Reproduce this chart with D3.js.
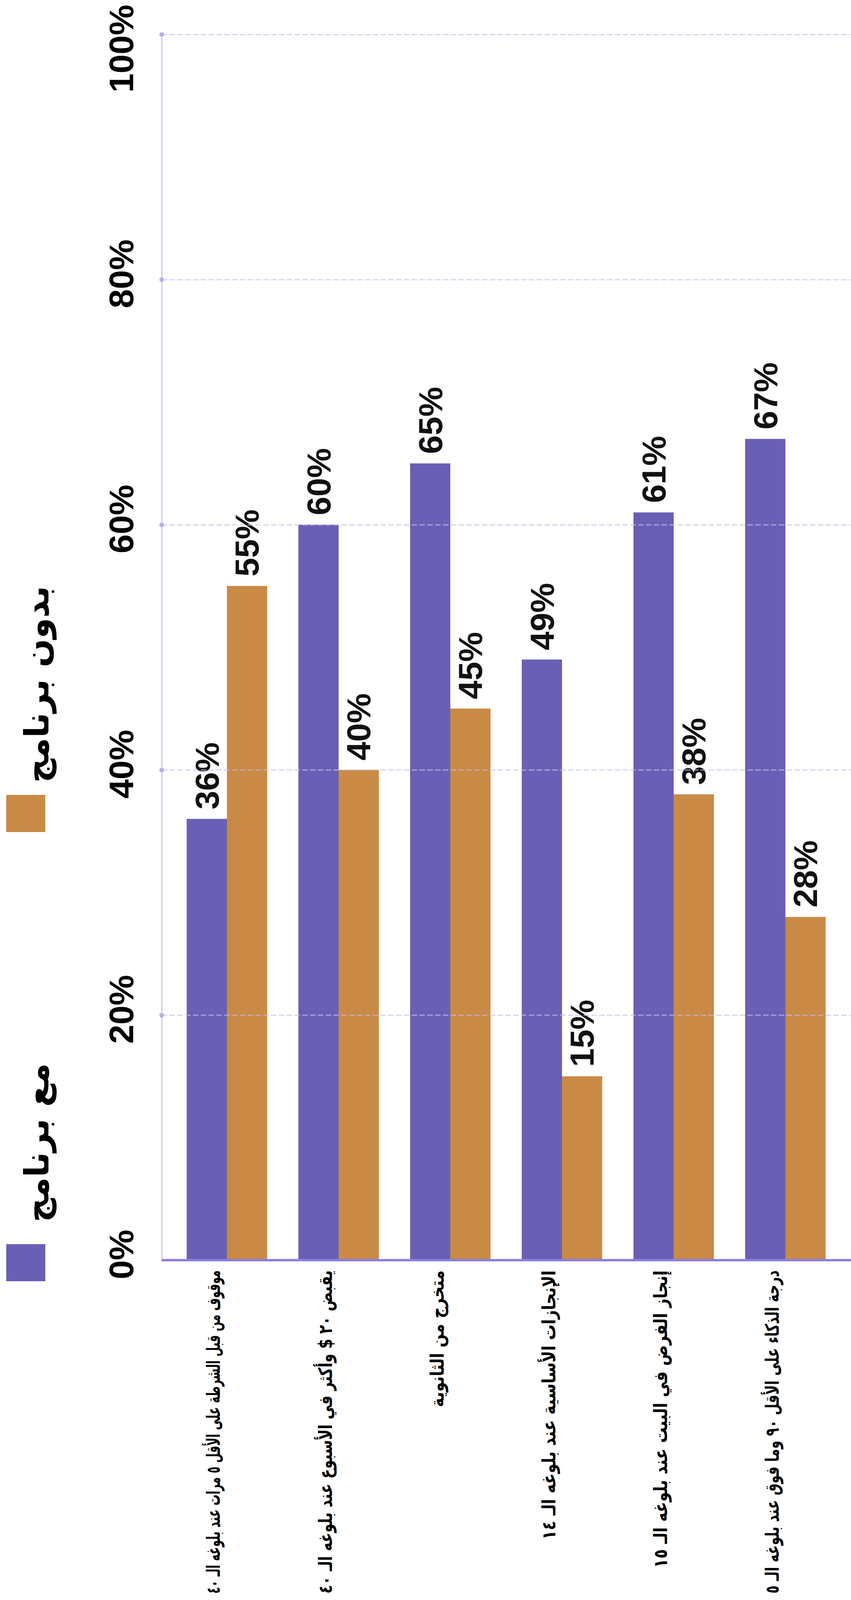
<!DOCTYPE html>
<html lang="ar">
    <head>
        <meta charset="utf-8">
        <title>مع برنامج / بدون برنامج</title>
        <script src="https://cdn.jsdelivr.net/npm/d3@7/dist/d3.min.js" charset="utf-8"></script>
        <style>
            body { margin: 0; background: #fff; }
        </style>
    </head>
    <body>
        <div id="chart"></div>
        <script>
            // categories (left to right in the picture)
            var categories = [
                "موقوف من قبل الشرطة على الأقل ٥ مرات عند بلوغه الـ ٤٠",
                "يقبض ٢٠ $ وأكثر في الأسبوع عند بلوغه الـ ٤٠",
                "متخرج من الثانوية",
                "الإنجازات الأساسية عند بلوغه الـ ١٤",
                "إنجاز الفرض في البيت عند بلوغه الـ ١٥",
                "درجة الذكاء على الأقل ٩٠ وما فوق عند بلوغه الـ ٥"
            ];
            var seriesNames = ["مع برنامج", "بدون برنامج"];
            var withProgram = [36, 60, 65, 49, 61, 67];
            var withoutProgram = [55, 40, 45, 15, 38, 28];
            var tickValues = [0, 20, 40, 60, 80, 100];

            var W = 2179, H = 4473;
            var plotLeft = 414, plotRight = 2179;
            var colors = ["#6960b5", "#c98a45"];
            var numFont = "'Liberation Sans', Arial, sans-serif";
            var arFont = "'DejaVu Sans', sans-serif";

            var svg = d3.select("#chart").append("svg")
                .attr("width", W)
                .attr("height", H)
                .style("display", "block");

            var y = d3.scaleLinear()
                .domain([0, 100])
                .range([3226, 88]);

            var x0 = d3.scaleBand()
                .domain(categories)
                .range([438, 2154])
                .paddingInner(0.28)
                .paddingOuter(0.14);

            var x1 = d3.scaleBand()
                .domain([0, 1])
                .range([0, x0.bandwidth()]);

            var color = d3.scaleOrdinal().domain([0, 1]).range(colors);

            var rows = categories.map(function(c, i) {
                return { cat: c, vals: [withProgram[i], withoutProgram[i]] };
            });

            // bars
            var groups = svg.selectAll(".grp")
                .data(rows)
                .enter()
                .append("g")
                .attr("class", "grp")
                .attr("transform", function(d) { return "translate(" + x0(d.cat) + ",0)"; });

            groups.selectAll("rect")
                .data(function(d) { return d.vals.map(function(v, k) { return { k: k, v: v }; }); })
                .enter()
                .append("rect")
                .attr("x", function(d) { return x1(d.k); })
                .attr("width", x1.bandwidth())
                .attr("y", function(d) { return y(d.v); })
                .attr("height", function(d) { return y(0) - y(d.v); })
                .style("fill", function(d) { return color(d.k); });

            // grid + vertical axis line
            var grid = svg.append("g")
                .attr("transform", "translate(" + plotLeft + ",0)")
                .call(d3.axisLeft(y)
                    .tickValues(tickValues.slice(1))
                    .tickSize(-(plotRight - plotLeft))
                    .tickSizeOuter(0)
                    .tickFormat(""));
            grid.select(".domain")
                .attr("stroke", "#cfc8ee")
                .attr("stroke-width", 3);
            grid.selectAll(".tick line")
                .attr("stroke", "#c6bfea")
                .attr("stroke-width", 3)
                .attr("stroke-dasharray", "14,6")
                .attr("opacity", 0.7);
            grid.selectAll(".tick")
                .append("circle")
                .attr("r", 6)
                .attr("fill", "#b9b0e6");

            // baseline
            svg.append("line")
                .attr("x1", plotLeft)
                .attr("x2", plotRight)
                .attr("y1", y(0))
                .attr("y2", y(0))
                .attr("stroke", "#8a7fe0")
                .attr("stroke-width", 6);

            // value labels
            groups.selectAll(".val")
                .data(function(d) { return d.vals.map(function(v, k) { return { k: k, v: v }; }); })
                .enter()
                .append("text")
                .attr("class", "val")
                .attr("transform", function(d) {
                    return "translate(" + (x1(d.k) + x1.bandwidth() / 2) + "," + (y(d.v) - 24) + ") rotate(-90)";
                })
                .attr("text-anchor", "start")
                .attr("dominant-baseline", "central")
                .style("font-family", numFont)
                .style("font-weight", "bold")
                .style("font-size", "86px")
                .style("fill", "#111")
                .text(function(d) { return d.v + "%"; });

            // value axis labels
            var yAxis = svg.append("g")
                .attr("transform", "translate(310,0)")
                .call(d3.axisLeft(y)
                    .tickValues(tickValues)
                    .tickSize(0)
                    .tickFormat(function(d) { return d + "%"; }));
            yAxis.select(".domain").remove();
            yAxis.selectAll(".tick text")
                .attr("x", 0)
                .attr("dy", null)
                .attr("text-anchor", "middle")
                .attr("dominant-baseline", "central")
                .attr("transform", function(d) {
                    var off = Math.max(y(d) - 15, 124) - y(d);
                    return "translate(0," + off + ") rotate(-90)";
                })
                .style("font-family", numFont)
                .style("font-weight", "bold")
                .style("font-size", "88px")
                .style("fill", "#000");

            // category labels, squeezed along the reading direction so they stay on the page
            var catTop = y(0) + 26;
            var catMax = 4080 - catTop;
            svg.selectAll(".cat")
                .data(categories)
                .enter()
                .append("text")
                .attr("class", "cat")
                .attr("direction", "rtl")
                .attr("text-anchor", "start")
                .attr("dominant-baseline", "central")
                .style("font-family", arFont)
                .style("font-weight", "bold")
                .style("font-size", "48px")
                .style("fill", "#000")
                .text(function(d) { return d; })
                .each(function(d) {
                    var len = this.getComputedTextLength();
                    var s = Math.min(0.83, catMax / len);
                    d3.select(this).attr("transform",
                        "translate(" + (x0(d) + x0.bandwidth() / 2 - 34) + "," + catTop + ") rotate(-90) scale(" + s + ",1)");
                });

            // legend
            var legendBoxY = [3185, 2035];
            var legendTextY = [3129, 2004];
            var legend = svg.selectAll(".leg")
                .data(seriesNames)
                .enter()
                .append("g")
                .attr("class", "leg");

            legend.append("rect")
                .attr("x", 16)
                .attr("y", function(d, i) { return legendBoxY[i]; })
                .attr("width", 100)
                .attr("height", 95)
                .style("fill", function(d, i) { return color(i); });

            legend.append("text")
                .attr("transform", function(d, i) {
                    return "translate(94," + legendTextY[i] + ") rotate(-90)";
                })
                .attr("direction", "rtl")
                .attr("text-anchor", "end")
                .attr("dominant-baseline", "central")
                .style("font-family", arFont)
                .style("font-weight", "bold")
                .style("font-size", "86px")
                .style("fill", "#000")
                .text(function(d) { return d; });
        </script>
    </body>
</html>
